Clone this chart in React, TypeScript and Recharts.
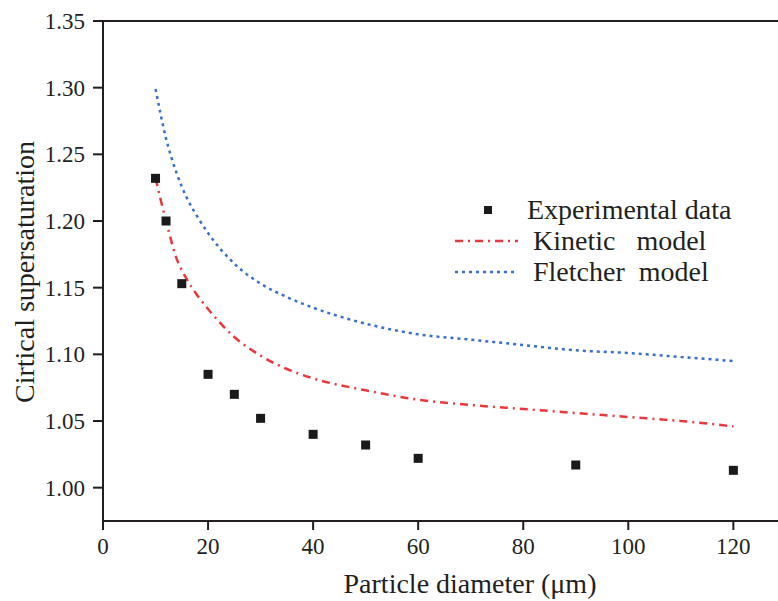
import { ComposedChart, Line, Scatter, XAxis, YAxis, ReferenceLine } from "recharts";

// experimental points
const expDiameter = [10, 12, 15, 20, 25, 30, 40, 50, 60, 90, 120];
const expValue = [1.232, 1.2, 1.153, 1.085, 1.07, 1.052, 1.04, 1.032, 1.022, 1.017, 1.013];

// model curves
const modelDiameter = [10, 12, 14, 16, 18, 20, 25, 30, 35, 40, 50, 60, 70, 80, 90, 100, 110, 120];
const kineticValue = [
  1.232, 1.2, 1.172, 1.156, 1.144, 1.134, 1.113, 1.099, 1.089, 1.082, 1.073, 1.066, 1.062,
  1.059, 1.056, 1.053, 1.05, 1.046,
];
const fletcherValue = [
  1.299, 1.262, 1.236, 1.217, 1.203, 1.191, 1.168, 1.153, 1.143, 1.135, 1.123, 1.115, 1.111,
  1.107, 1.103, 1.101, 1.098, 1.095,
];

const xTicks = [0, 20, 40, 60, 80, 100, 120];
const yTicks = [1.0, 1.05, 1.1, 1.15, 1.2, 1.25, 1.3, 1.35];

const FONT = '"Liberation Serif", "Times New Roman", serif';
const AXIS = "#231f20";
const TEXT = "#231f20";
const RED = "#e8393f";
const BLUE = "#3b6fc3";

const expData = expDiameter.map((x, i) => ({ x, y: expValue[i] }));
const kineticData = modelDiameter.map((x, i) => ({ x, y: kineticValue[i] }));
const fletcherData = modelDiameter.map((x, i) => ({ x, y: fletcherValue[i] }));

const SquareDot = (props: any) => {
  const { cx, cy } = props;
  return <rect x={cx - 4.5} y={cy - 4.5} width={9} height={9} fill="#1a1a1a" />;
};

const XTitle = () => (
  <text x={470} y={593} textAnchor="middle" fontFamily={FONT} fontSize={28} fill={TEXT}>
    Particle diameter (μm)
  </text>
);

const YTitle = () => (
  <text
    x={24}
    y={272}
    transform="rotate(-90 24 272)"
    textAnchor="middle"
    dominantBaseline="central"
    fontFamily={FONT}
    fontSize={28}
    fill={TEXT}
  >
    Cirtical supersaturation
  </text>
);

const LegendBox = () => (
  <svg width={323} height={100} style={{ position: "absolute", left: 455, top: 194 }}>
    <rect x={29} y={12} width={8} height={8} fill="#1a1a1a" />
    <text x={72} y={25} fontFamily={FONT} fontSize={28} fill={TEXT}>
      Experimental data
    </text>
    <line x1={0} y1={47} x2={63} y2={47} stroke={RED} strokeWidth={2.5} strokeDasharray="8 5 2 5" />
    <text x={78} y={56} fontFamily={FONT} fontSize={28} fill={TEXT} xmlSpace="preserve">
      {"Kinetic   model"}
    </text>
    <line x1={0} y1={78} x2={63} y2={78} stroke={BLUE} strokeWidth={2.5} strokeDasharray="3 4" />
    <text x={78} y={87} fontFamily={FONT} fontSize={28} fill={TEXT} xmlSpace="preserve">
      {"Fletcher  model"}
    </text>
  </svg>
);

export default function App() {
  return (
    <div style={{ position: "absolute", left: 0, top: 0, width: 778, height: 601, background: "#fff" }}>
      <ComposedChart width={778} height={601} margin={{ top: 21, right: 0, bottom: 20, left: 0 }}>
        <XAxis
          type="number"
          dataKey="x"
          domain={[0, 128.5]}
          allowDataOverflow
          ticks={xTicks}
          tickSize={9}
          tickMargin={8}
          height={60}
          axisLine={{ stroke: AXIS, strokeWidth: 2 }}
          tickLine={{ stroke: AXIS, strokeWidth: 2 }}
          tick={{ fill: TEXT, fontFamily: FONT, fontSize: 23 }}
          label={{ content: () => <XTitle /> }}
        />
        <YAxis
          type="number"
          dataKey="y"
          domain={[0.975, 1.35]}
          allowDataOverflow
          ticks={yTicks}
          width={103}
          tickSize={10}
          tickMargin={8}
          tickFormatter={(v: number) => v.toFixed(2)}
          axisLine={{ stroke: AXIS, strokeWidth: 2 }}
          tickLine={{ stroke: AXIS, strokeWidth: 2 }}
          tick={{ fill: TEXT, fontFamily: FONT, fontSize: 23 }}
          label={{ content: () => <YTitle /> }}
        />
        <ReferenceLine y={1.35} stroke={AXIS} strokeWidth={2} />
        <Line
          data={fletcherData}
          dataKey="y"
          type="monotone"
          stroke={BLUE}
          strokeWidth={2.5}
          strokeDasharray="3 4"
          dot={false}
          activeDot={false}
          isAnimationActive={false}
        />
        <Line
          data={kineticData}
          dataKey="y"
          type="monotone"
          stroke={RED}
          strokeWidth={2.5}
          strokeDasharray="8 5 2 5"
          dot={false}
          activeDot={false}
          isAnimationActive={false}
        />
        <Scatter data={expData} dataKey="y" shape={<SquareDot />} isAnimationActive={false} />
      </ComposedChart>
      <LegendBox />
    </div>
  );
}
